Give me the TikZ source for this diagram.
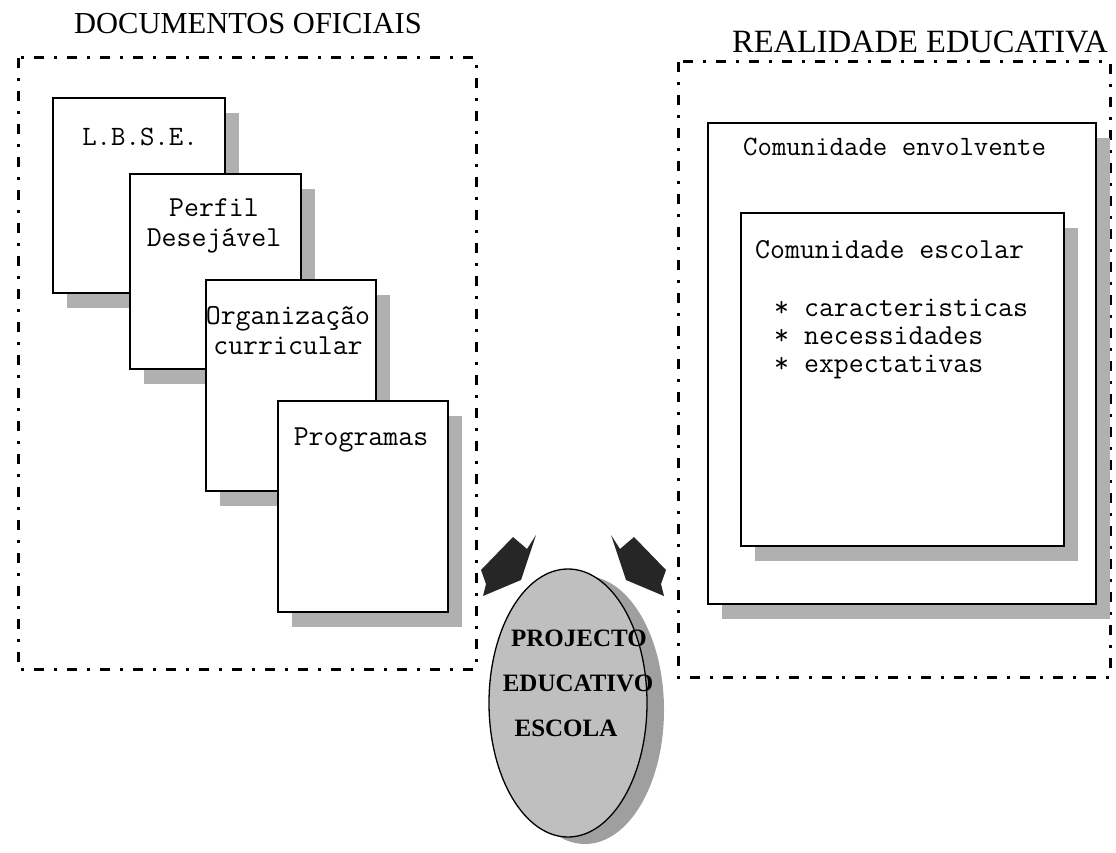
\documentclass[tikz,border=0pt]{standalone}
\usepackage{fontspec}
\setmainfont{Liberation Serif}
\usetikzlibrary{shadows,shapes.geometric,positioning}

\tikzset{
  grupo/.style={line width=3pt, dash pattern=on 10pt off 10pt on 3pt off 10pt},
  folha/.style={draw, line width=2.4pt, fill=white, anchor=north west, inner sep=0pt,
    drop shadow={shadow xshift=14pt, shadow yshift=-15pt, opacity=1, fill=gray!62}},
  titulo/.style={font=\fontsize{30.5}{30}\selectfont},
  mono/.style={font=\fontsize{29}{30}\selectfont\ttfamily, align=center, inner sep=0pt},
  negrito/.style={font=\fontsize{25}{25}\selectfont\bfseries, inner sep=0pt},
  seta/.style={fill=black!85},
}

\begin{document}
\begin{tikzpicture}[x=1pt,y=-1pt]
    \useasboundingbox (0,0) rectangle (1116,853);

    % Titles
    \node[titulo] (tdoc)  at (248,24) {DOCUMENTOS OFICIAIS};
    \node[titulo, font=\fontsize{32.5}{32}\selectfont] (treal) at (920,42) {REALIDADE EDUCATIVA};

    % Groups
    \draw[grupo] (18,58)  rectangle (476,669);
    \draw[grupo] (678,62) rectangle (1110,677);

    % Documents
    \node[folha, minimum width=172pt, minimum height=195pt] (lbse)   at (52,97)  {};
    \node[folha, minimum width=171pt, minimum height=195pt] (perfil) at (129,173) {};
    \node[folha, minimum width=170pt, minimum height=211pt] (org)    at (205,279) {};
    \node[folha, minimum width=170pt, minimum height=211pt] (prog)   at (277,400) {};

    \node[mono, font=\fontsize{28}{30}\selectfont\ttfamily] (tlbse) at (140,137) {L.B.S.E.};
    \node[mono] (tperfil) at (214,226) {Perfil\\Desejável};
    \node[mono] (torg)    at (288,331) {Organização\\curricular};
    \node[mono] (tprog)   at (361,440) {Programas};

    % Community
    \node[folha, minimum width=388pt, minimum height=481pt] (envol)  at (707,122) {};
    \node[folha, minimum width=323pt, minimum height=333pt] (escol)  at (740,212) {};

    \node[mono, anchor=west, font=\fontsize{28}{30}\selectfont\ttfamily] (tenvol) at (743,147) {Comunidade envolvente};
    \node[mono, anchor=west] (tescol) at (755,250) {Comunidade escolar};
    \node[mono, anchor=north west, align=left, font=\fontsize{29}{28}\selectfont\ttfamily] (lista) at (774,299)
        {* caracteristicas\\* necessidades\\* expectativas};

    % Arrows
    \fill[seta] (513,537) -- (527,549) -- (536,535) -- (521,580) -- (483,596) -- (486,584) -- (481,570) -- cycle;
    \fill[seta] (634,537) -- (620,549) -- (611,535) -- (626,580) -- (664,596) -- (661,584) -- (666,570) -- cycle;

    % Project
    \node[ellipse, draw, line width=1.3pt, fill=gray!50, minimum width=158pt, minimum height=268pt,
      drop shadow={shadow xshift=17pt, shadow yshift=-7pt, opacity=1, fill=gray!75}] (pe) at (568,703) {};
    \node[negrito] (p1) at (579,638) {PROJECTO};
    \node[negrito] (p2) at (578,683) {EDUCATIVO};
    \node[negrito] (p3) at (566,728) {ESCOLA};
\end{tikzpicture}
\end{document}
